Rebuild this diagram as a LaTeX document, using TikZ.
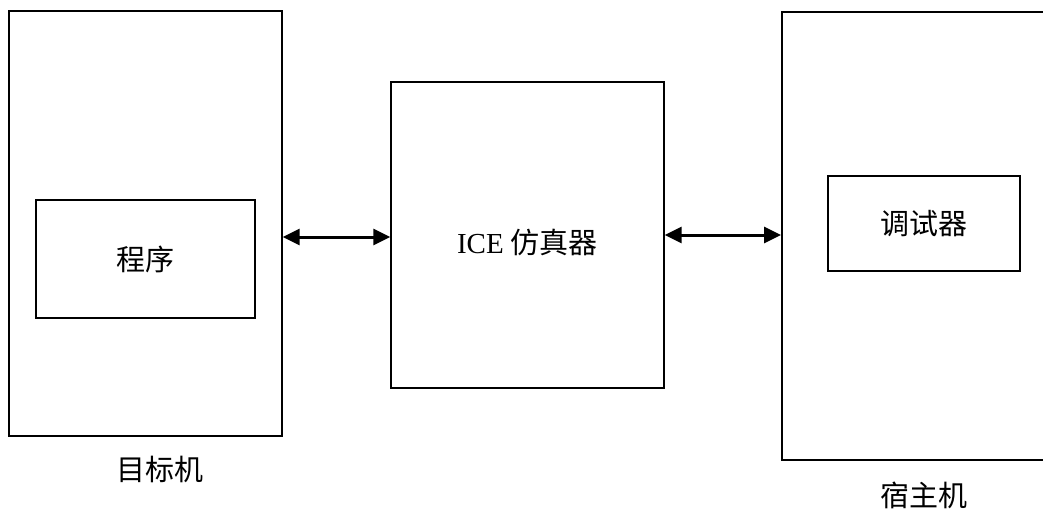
\documentclass[tikz,border=0pt]{standalone}
\usepackage{fontspec}
\setmainfont{Liberation Serif}
\newfontfamily\cjk{Noto Sans CJK SC}
\usetikzlibrary{arrows.meta}
\begin{document}
\begin{tikzpicture}[x=1pt,y=-1pt,
  box/.style={draw,line width=1.4pt},
  lbl/.style={font=\fontsize{29}{34}\selectfont\cjk},
  conn/.style={line width=3pt,{Triangle[length=17pt,width=16pt]}-{Triangle[length=17pt,width=16pt]}}]
\useasboundingbox (0,0) rectangle (1043,512);
\node[box,minimum width=273pt,minimum height=425pt,inner sep=0pt] (target) at (145.5,223.5) {};
\node[box,minimum width=219pt,minimum height=118pt,inner sep=0pt,lbl] (prog) at (145.5,259) {程序};
\node[box,minimum width=273pt,minimum height=306pt,inner sep=0pt] (ice) at (527.5,235) {};
\node[font=\fontsize{29}{34}\selectfont] (icet) at (527.5,242) {ICE {\cjk 仿真器}};
\node[box,line width=2pt,minimum width=264pt,minimum height=448pt,inner sep=0pt,anchor=north west] (host) at (781,11) {};
\node[box,minimum width=192pt,minimum height=95pt,inner sep=0pt,lbl] (dbg) at (924,223.5) {调试器};
\node[lbl] (tl) at (160,469) {目标机};
\node[lbl] (hl) at (924,495) {宿主机};
\coordinate (a1) at (target.east |- 0,237);
\coordinate (a2) at (ice.west |- 0,237);
\draw[conn] (a1) -- (a2);
\coordinate (b1) at (ice.east |- 0,235);
\coordinate (b2) at (host.west |- 0,235);
\draw[conn] (b1) -- (b2);
\end{tikzpicture}
\end{document}
